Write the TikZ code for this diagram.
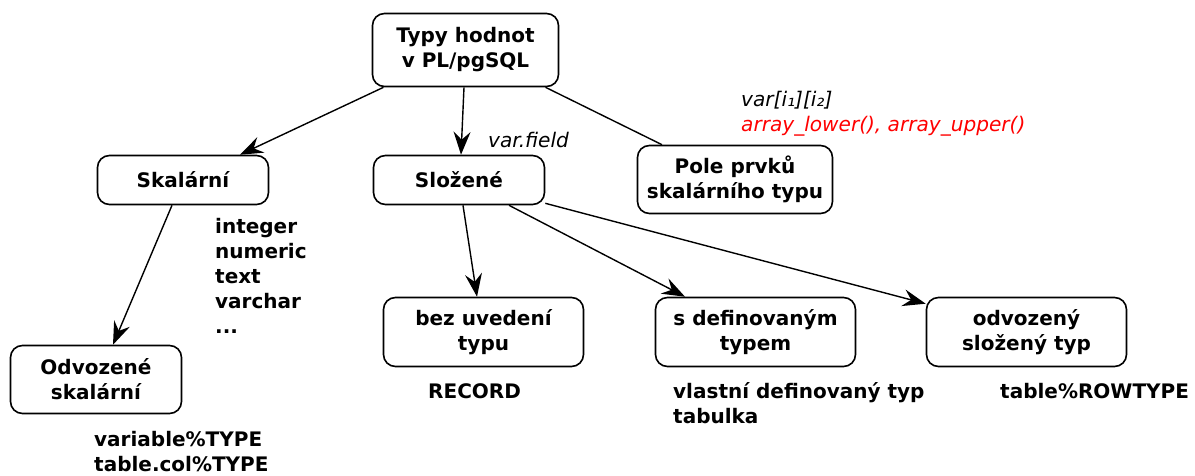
\documentclass[tikz,border=0pt]{standalone}
\usepackage{fontspec}
\setmainfont{DejaVu Sans}
\usetikzlibrary{arrows.meta}
\definecolor{lblred}{RGB}{255,0,0}
\begin{document}
\begin{tikzpicture}[x=1pt,y=-1pt,
  box/.style={draw, line width=1.6pt, rounded corners=12pt, align=center, inner sep=0pt,
    font=\bfseries\fontsize{20}{25}\selectfont},
  lab/.style={anchor=base west, align=left, inner sep=0pt,
    font=\bfseries\fontsize{20}{25}\selectfont},
  ilab/.style={anchor=base west, align=left, inner sep=0pt,
    font=\itshape\fontsize{20.1}{25}\selectfont},
  conn/.style={line width=1.4pt, -{Stealth[length=23pt,width=17pt,inset=8pt]}},
  link/.style={line width=1.4pt}]
\useasboundingbox (0,0) rectangle (1195,475);
% boxes
\node[box, minimum width=186pt, minimum height=73pt] (top) at (465.5,50) {Typy hodnot\\v PL/pgSQL};
\node[box, minimum width=171pt, minimum height=49pt] (sk) at (183,180) {Skalární};
\node[box, minimum width=171pt, minimum height=49pt] (sl) at (459,180) {Složené};
\node[box, minimum width=195pt, minimum height=68pt] (pole) at (735,179.5) {Pole prvků\\skalárního typu};
\node[box, minimum width=171pt, minimum height=68pt] (odv) at (96,379.5) {Odvozené\\skalární};
\node[box, minimum width=200pt, minimum height=69pt] (bez) at (483.5,332) {bez uvedení\\typu};
\node[box, minimum width=200pt, minimum height=69pt] (sdef) at (755.5,332) {s definovaným\\typem};
\node[box, minimum width=200pt, minimum height=69pt] (odz) at (1026.5,332) {odvozený\\složený typ};
% connectors
\draw[conn] ([xshift=-82pt]top.south) -- ([xshift=57pt]sk.north);
\draw[conn] ([xshift=-1.5pt]top.south) -- ([xshift=2pt]sl.north);
\draw[link] ([xshift=80pt]top.south) -- ([xshift=-73pt]pole.north);
\draw[conn] ([xshift=-11pt]sk.south) -- ([xshift=17pt]odv.north);
\draw[conn] ([xshift=4pt]sl.south) -- ([xshift=-6.5pt]bez.north);
\draw[conn] ([xshift=50pt]sl.south) -- ([xshift=-70.5pt]sdef.north);
\draw[conn] ([yshift=2pt]sl.south east) -- ([yshift=-7pt]odz.north west);
% labels (base anchor = baseline of the last line)
\node[ilab] (vf) at (488,147) {var.field};
\node[ilab] (vi) at (741,106) {var[i₁][i₂]};
\node[ilab, text=lblred] (arr) at (741,131.5) {array\_lower(), array\_upper()};
\node[lab] (scal) at (215,333) {integer\\numeric\\text\\varchar\\...};
\node[lab] (vt) at (94,471.5) {variable\%TYPE\\table.col\%TYPE};
\node[lab] (rec) at (428,398) {RECORD};
\node[lab] (vl) at (673,423) {vlastní definovaný typ\\tabulka};
\node[lab] (rt) at (1000,398) {table\%ROWTYPE};
\end{tikzpicture}
\end{document}
